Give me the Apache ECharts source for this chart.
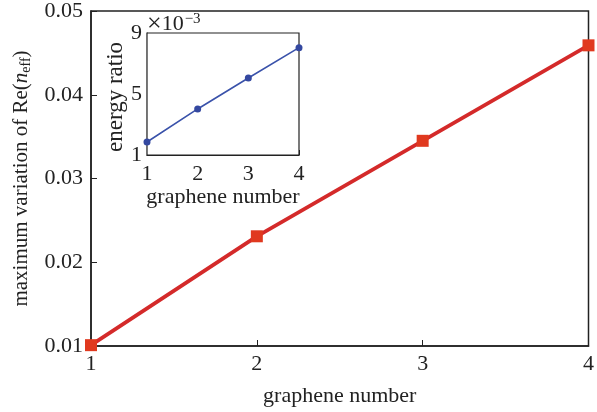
<!DOCTYPE html>
<html>
<head>
<meta charset="utf-8">
<script src="https://cdn.jsdelivr.net/npm/echarts@6/dist/echarts.min.js"></script>
<style>html,body{margin:0;padding:0;background:#fff}#c{width:597px;height:412px}</style>
</head>
<body>
<div id="c"></div>
<script>
const graphene = [1, 2, 3, 4];
const mainValues = [0.0101, 0.0231, 0.0345, 0.0459];
const insetValues = [1.85, 4.02, 6.05, 8.04];
const mainYTicks = [0.01, 0.02, 0.03, 0.04, 0.05];
const insetYTicks = [1, 5, 9];

const FONT = 'Liberation Serif';
const chart = echarts.init(document.getElementById('c'), null, {renderer: 'canvas'});
const axCol = '#222';
const tickFont = {fontFamily: FONT, fontSize: 22, color: '#222'};

chart.setOption({
  animation: false,
  backgroundColor: '#fff',
  grid: [
    {left: 91, top: 11, right: 1.5, bottom: 64, show: true, borderColor: axCol, borderWidth: 1.5, backgroundColor: 'transparent'},
    {left: 147, top: 33, width: 152, height: 122, show: true, borderColor: axCol, borderWidth: 1.2, backgroundColor: '#fff', z: 5}
  ],
  xAxis: [
    {
      gridIndex: 0, type: 'value', min: 1, max: 4, interval: 1,
      axisLine: {lineStyle: {color: axCol, width: 1.5}},
      axisTick: {inside: true, length: 6, lineStyle: {color: axCol}},
      splitLine: {show: false},
      axisLabel: Object.assign({margin: 7}, tickFont),
      name: 'graphene number', nameLocation: 'middle', nameGap: 39,
      nameTextStyle: {fontFamily: FONT, fontSize: 22, color: '#222'}
    },
    {
      gridIndex: 1, type: 'value', min: 1, max: 4, interval: 1,
      axisLine: {lineStyle: {color: axCol, width: 1.2}},
      axisTick: {inside: true, length: 5, lineStyle: {color: axCol}},
      splitLine: {show: false},
      axisLabel: Object.assign({margin: 8}, tickFont),
      name: 'graphene number', nameLocation: 'middle', nameGap: 28,
      nameTextStyle: {fontFamily: FONT, fontSize: 22, color: '#222'}
    }
  ],
  yAxis: [
    {
      gridIndex: 0, type: 'value', min: 0.01, max: 0.05, interval: 0.01,
      axisLine: {lineStyle: {color: axCol, width: 1.5}},
      axisTick: {inside: true, length: 6, lineStyle: {color: axCol}},
      splitLine: {show: false},
      axisLabel: Object.assign({margin: 8, formatter: v => v.toFixed(2)}, tickFont),
      name: 'maximum variation of Re({i|n}{sub|eff})', nameLocation: 'middle', nameGap: 53,
      nameTextStyle: {
        fontFamily: FONT, fontSize: 21, color: '#222',
        rich: {
          i: {fontFamily: FONT, fontSize: 21, fontStyle: 'italic', color: '#222'},
          sub: {fontFamily: FONT, fontSize: 14, color: '#222', padding: [10, 0, 0, 0]}
        }
      }
    },
    {
      gridIndex: 1, type: 'value', min: 1, max: 9, interval: 4,
      axisLine: {lineStyle: {color: axCol, width: 1.2}},
      axisTick: {inside: true, length: 5, lineStyle: {color: axCol}},
      splitLine: {show: false},
      axisLabel: Object.assign({margin: 5, padding: [6, 0, 0, 0]}, tickFont),
      name: 'energy ratio', nameLocation: 'middle', nameGap: 19,
      nameTextStyle: {fontFamily: FONT, fontSize: 23, color: '#222', padding: [0, 6, 0, 0]}
    },
    {
      gridIndex: 1, type: 'value', min: 1, max: 9, interval: 4, position: 'left',
      axisLine: {show: false}, axisTick: {show: false}, axisLabel: {show: false}, splitLine: {show: false},
      name: '{x|×}10{sup|−3}', nameLocation: 'end', nameGap: -4,
      nameTextStyle: {
        fontFamily: FONT, fontSize: 22, color: '#222', align: 'left',
        rich: {
          x: {fontFamily: FONT, fontSize: 26, color: '#222'},
          sup: {fontFamily: FONT, fontSize: 15, color: '#222', padding: [0, 0, 10, 1]}
        }
      }
    }
  ],
  series: [
    {
      type: 'line', xAxisIndex: 0, yAxisIndex: 0,
      data: graphene.map((g, i) => [g, mainValues[i]]),
      lineStyle: {color: '#d42a2a', width: 3.8},
      itemStyle: {color: '#e0391f'},
      symbol: 'rect', symbolSize: 12, showSymbol: true, clip: false, z: 3
    },
    {
      type: 'line', xAxisIndex: 1, yAxisIndex: 1,
      data: graphene.map((g, i) => [g, insetValues[i]]),
      lineStyle: {color: '#3a52aa', width: 1.6},
      itemStyle: {color: '#3448a0'},
      symbol: 'circle', symbolSize: 7, z: 10
    }
  ]
});
</script>
</body>
</html>
